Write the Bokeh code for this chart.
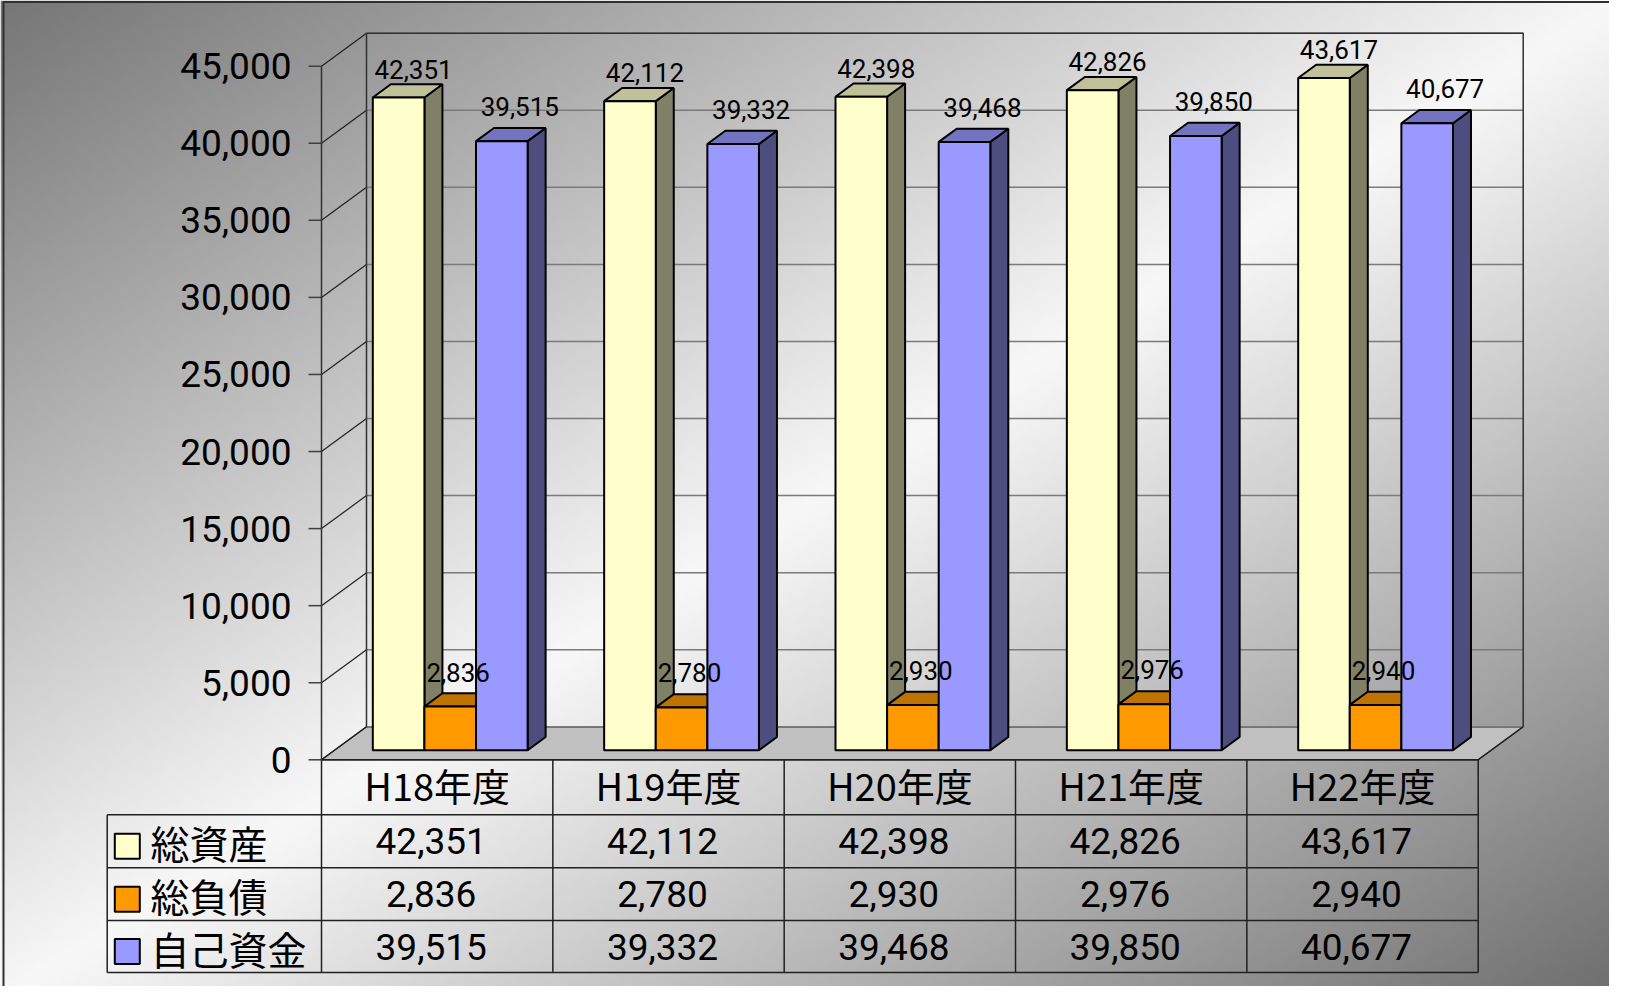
import numpy as np
from bokeh.plotting import figure
from bokeh.models import Range1d
from bokeh.core.properties import value
from bokeh.embed import file_html
from bokeh.resources import INLINE

# ---------------- data ----------------
categories = ["H18年度", "H19年度", "H20年度", "H21年度", "H22年度"]
series_names = ["総資産", "総負債", "自己資金"]
total_assets = [42351, 42112, 42398, 42826, 43617]
total_liabilities = [2836, 2780, 2930, 2976, 2940]
own_funds = [39515, 39332, 39468, 39850, 40677]
y_ticks = [0, 5000, 10000, 15000, 20000, 25000, 30000, 35000, 40000, 45000]
y_max = 45000

series_values = [total_assets, total_liabilities, own_funds]

# ---------------- style ----------------
front_colors = ["#FFFFCC", "#FF9900", "#9999FF"]
top_colors = ["#C0C09A", "#BF7300", "#7373BF"]
side_colors = ["#808066", "#804D00", "#4D4D80"]
label_dx_px = [28, 21, 31]      # label shift right of bar centre (px)
label_dy_px = [38, 44, 44]      # label shift above bar value (px)
NUM_FONT = "Roboto"
CJK_FONT = "Noto Sans CJK JP"

W, H = 1609, 986
CAT_PX = 231.34              # width of one category in px
X0_PX = 321.0                # category boundary 0, px
Y0_PX = 759.3                # value 0, px from top
YMAX_PX = 65.7               # value y_max, px from top
PPV = (Y0_PX - YMAX_PX) / y_max


def cx(X):   # canvas x px -> data x
    return (X - X0_PX) / CAT_PX


def vy(Y):   # canvas y px -> data y
    return (Y0_PX - Y) / PPV


def dxp(px):
    return px / CAT_PX


def dyp(px):
    return px / PPV


p = figure(width=W, height=H,
           x_range=Range1d(cx(0), cx(W)),
           y_range=Range1d(vy(H), vy(0)),
           output_backend="svg", toolbar_location=None,
           x_axis_location=None, y_axis_location=None,
           min_border=0, outline_line_color=None,
           background_fill_color="white", border_fill_color="white")
p.grid.visible = False

# ---------------- background gradient ----------------
nx, ny = 325, 200
col_X = (np.arange(nx) + 0.5) / nx * W
row_Y = H * (1 - (np.arange(ny) + 0.5) / ny)
XX, YY = np.meshgrid(col_X, row_Y)
t = (XX / 1625 + YY / 1002) / 2
g = np.where(t < 0.5, 118 + (248 - 118) * t / 0.5, 248 - (248 - 108) * (t - 0.5) / 0.5)
img = np.empty((ny, nx), dtype=np.uint32)
view = img.view(dtype=np.uint8).reshape((ny, nx, 4))
view[:, :, 0] = g.astype(np.uint8)
view[:, :, 1] = g.astype(np.uint8)
view[:, :, 2] = g.astype(np.uint8)
view[:, :, 3] = 255
p.image_rgba(image=[img], x=cx(0), y=vy(H), dw=cx(W) - cx(0), dh=vy(0) - vy(H))

# outer border of chart area
p.line([cx(3), cx(3), cx(W + 5)], [vy(H + 5), vy(1.5), vy(1.5)],
       line_color="#303030", line_width=2)

# ---------------- 3D frame ----------------
ncat = len(categories)
DX, DY = dxp(45), dyp(33)

p.patch([0, DX, ncat + DX, ncat], [0, DY, DY, 0],
        fill_color="#C0C0C0", line_color="#202020", line_width=1.2)

p.segment(x0=[DX] * len(y_ticks), y0=[v + DY for v in y_ticks],
          x1=[ncat + DX] * len(y_ticks), y1=[v + DY for v in y_ticks],
          line_color="#7a7a7a", line_width=1.5)
p.segment(x0=[0] * len(y_ticks), y0=y_ticks,
          x1=[DX] * len(y_ticks), y1=[v + DY for v in y_ticks],
          line_color="#202020", line_width=1.2)
p.segment(x0=[dxp(-13)] * len(y_ticks), y0=y_ticks,
          x1=[0] * len(y_ticks), y1=y_ticks,
          line_color="#404040", line_width=1.5)
p.line([DX, DX, ncat + DX, ncat + DX], [DY, y_max + DY, y_max + DY, DY],
       line_color="#303030", line_width=1.5)
p.line([0, 0], [0, y_max], line_color="#303030", line_width=1.5)
p.line([ncat, ncat + DX], [0, DY], line_color="#202020", line_width=1.2)

# ---------------- bars ----------------
BW = dxp(51.6)
T0, T1 = 0.29, 0.69
nser = len(series_values)
for s, vals in enumerate(series_values):
    fl, fr, ft, fb = [], [], [], []
    tx, ty, sx, sy = [], [], [], []
    for i, v in enumerate(vals):
        xl = i + 0.5 - nser * BW / 2 + s * BW
        xr = xl + BW
        ox0, oy0 = T0 * DX, T0 * DY
        ox1, oy1 = T1 * DX, T1 * DY
        fl.append(xl + ox0); fr.append(xr + ox0)
        fb.append(oy0); ft.append(v + oy0)
        tx.append([xl + ox0, xr + ox0, xr + ox1, xl + ox1])
        ty.append([v + oy0, v + oy0, v + oy1, v + oy1])
        sx.append([xr + ox0, xr + ox1, xr + ox1, xr + ox0])
        sy.append([oy0, oy1, v + oy1, v + oy0])
    p.patches(xs=sx, ys=sy, fill_color=side_colors[s], line_color="black", line_width=2)
    p.patches(xs=tx, ys=ty, fill_color=top_colors[s], line_color="black", line_width=2)
    p.quad(left=fl, right=fr, top=ft, bottom=fb,
           fill_color=front_colors[s], line_color="black", line_width=2)

# bar value labels
for s, vals in enumerate(series_values):
    lx = [i + 0.5 - nser * BW / 2 + (s + 0.5) * BW + dxp(label_dx_px[s]) for i in range(ncat)]
    ly = [v + dyp(label_dy_px[s]) for v in vals]
    p.text(x=lx, y=ly, text=[f"{v:,}" for v in vals],
           text_font=value(NUM_FONT), text_font_size="26px",
           text_align="center", text_baseline="middle", text_color="black")

# axis tick labels
p.text(x=[cx(291)] * len(y_ticks), y=y_ticks, text=[f"{v:,}" for v in y_ticks],
       text_font=value(NUM_FONT), text_font_size="37px",
       text_align="right", text_baseline="middle", text_color="black")

# ---------------- data table ----------------
row_edges = [759.3, 814.3, 867.3, 920.0, 972.0]
table_left = cx(106.7)
p.segment(x0=[0], y0=[0], x1=[ncat], y1=[0], line_color="#202020", line_width=1.5)
p.segment(x0=[table_left] * 4, y0=[vy(Y) for Y in row_edges[1:]],
          x1=[ncat] * 4, y1=[vy(Y) for Y in row_edges[1:]],
          line_color="#202020", line_width=1.5)
p.segment(x0=[table_left], y0=[vy(row_edges[1])], x1=[table_left], y1=[vy(row_edges[-1])],
          line_color="#202020", line_width=1.5)
p.segment(x0=list(range(ncat + 1)), y0=[0] * (ncat + 1),
          x1=list(range(ncat + 1)), y1=[vy(row_edges[-1])] * (ncat + 1),
          line_color="#202020", line_width=1.5)

p.text(x=[i + 0.5 for i in range(ncat)], y=[vy((row_edges[0] + row_edges[1]) / 2 - 3)] * ncat,
       text=categories, text_font=value(CJK_FONT), text_font_size="38px",
       text_align="center", text_baseline="middle", text_color="black")

for r, vals in enumerate(series_values):
    yc = (row_edges[r + 1] + row_edges[r + 2]) / 2
    p.text(x=[i + 0.5 - dxp(6) for i in range(ncat)], y=[vy(yc)] * ncat,
           text=[f"{v:,}" for v in vals], text_font=value(NUM_FONT),
           text_font_size="37px", text_align="center", text_baseline="middle",
           text_color="black")
    p.quad(left=[cx(114.3)], right=[cx(139.3)], top=[vy(yc + 5 - 12.5)],
           bottom=[vy(yc + 5 + 12.5)], fill_color=front_colors[r],
           line_color="black", line_width=2)
    p.text(x=[cx(150)], y=[vy(yc + 1)], text=[series_names[r]],
           text_font=value(CJK_FONT), text_font_size="39px",
           text_align="left", text_baseline="middle", text_color="black")

open("out.html", "w").write(file_html(p, INLINE))
